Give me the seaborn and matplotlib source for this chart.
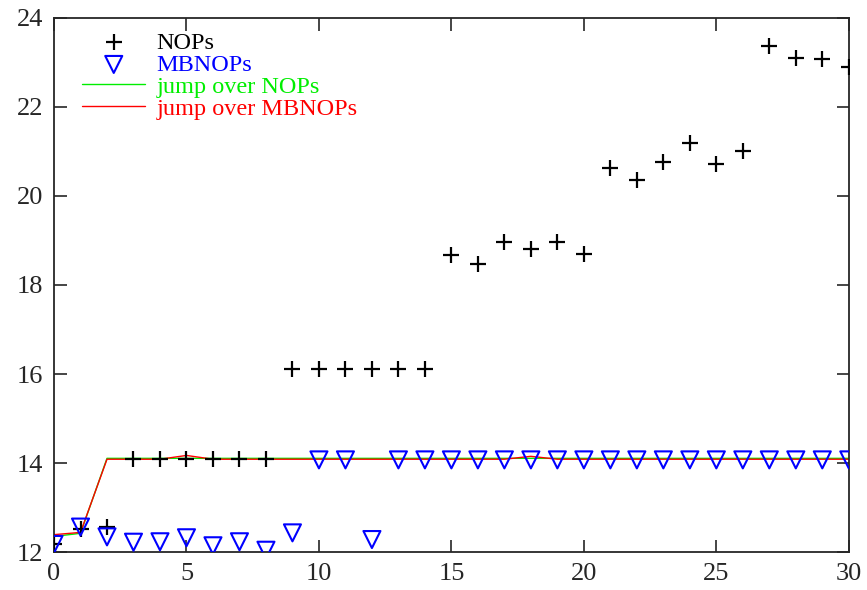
import numpy as np
import pandas as pd
import seaborn as sns
import matplotlib.pyplot as plt

# values
x = list(range(31))
nops = [12.18, 12.52, 12.56, 14.09, 14.09, 14.09, 14.09, 14.09, 14.09,
        16.11, 16.11, 16.11, 16.11, 16.11, 16.11,
        18.67, 18.47, 18.96, 18.82, 18.96, 18.69,
        20.64, 20.37, 20.77, 21.18, 20.71, 21.01,
        23.37, 23.10, 23.07, 22.90]
mbnops = [12.17, 12.56, 12.34, 12.22, 12.23, 12.32, 12.14, 12.23, 12.04, 12.43,
          14.07, 14.07, 12.28] + [14.07] * 18
jump_nops = [12.35, 12.42] + [14.105] * 29
jump_mbnops = [12.39, 12.44, 14.085, 14.085, 14.085, 14.17, 14.085, 14.085, 14.085,
               14.085, 14.085, 14.085, 14.085, 14.085, 14.085, 14.085, 14.085, 14.085,
               14.15, 14.085, 14.085, 14.085, 14.085, 14.085, 14.085, 14.085, 14.085,
               14.085, 14.085, 14.085, 14.085]

df = pd.DataFrame({'x': x, 'NOPs': nops, 'MBNOPs': mbnops,
                   'jump over NOPs': jump_nops, 'jump over MBNOPs': jump_mbnops})

sns.set_style('ticks')
plt.rcParams['font.family'] = ['Liberation Serif', 'DejaVu Serif']

fig = plt.figure(figsize=(8.67, 5.90), dpi=100)
ax = fig.add_axes([0.0623, 0.0644, 0.9167, 0.9051])

sns.lineplot(data=df, x='x', y='jump over NOPs', color='#00ee00', linewidth=1.0,
             ax=ax, label='jump over NOPs', zorder=2)
sns.lineplot(data=df, x='x', y='jump over MBNOPs', color='red', linewidth=1.0,
             ax=ax, label='jump over MBNOPs', zorder=2)
sns.scatterplot(data=df, x='x', y='NOPs', marker='+', s=120, color='black',
                linewidth=1.6, ax=ax, label='NOPs', zorder=3)
sns.scatterplot(data=df, x='x', y='MBNOPs', marker='v', s=150, facecolor='none',
                edgecolor='blue', linewidth=1.5, ax=ax, label='MBNOPs', zorder=4)

ax.set_xlim(0, 30)
ax.set_ylim(12, 24)
ax.set_xticks(range(0, 31, 5))
ax.set_yticks(range(12, 25, 2))
ax.set_xlabel('')
ax.set_ylabel('')
ax.tick_params(direction='in', length=9, width=1.2, labelsize=19,
               top=True, right=True, pad=8)
for sp in ax.spines.values():
    sp.set_visible(True)
    sp.set_linewidth(1.3)

handles, labels = ax.get_legend_handles_labels()
order = ['NOPs', 'MBNOPs', 'jump over NOPs', 'jump over MBNOPs']
hmap = dict(zip(labels, handles))
leg = ax.legend([hmap[k] for k in order], order, loc='upper left',
                bbox_to_anchor=(0.014, 1.006), frameon=False, fontsize=17.5,
                handlelength=2.6, handletextpad=0.45, labelspacing=0.0,
                borderpad=0.2)
colors = ['black', 'blue', '#00ee00', 'red']
for t, c in zip(leg.get_texts(), colors):
    t.set_color(c)

fig.savefig('out.png', dpi=100)
